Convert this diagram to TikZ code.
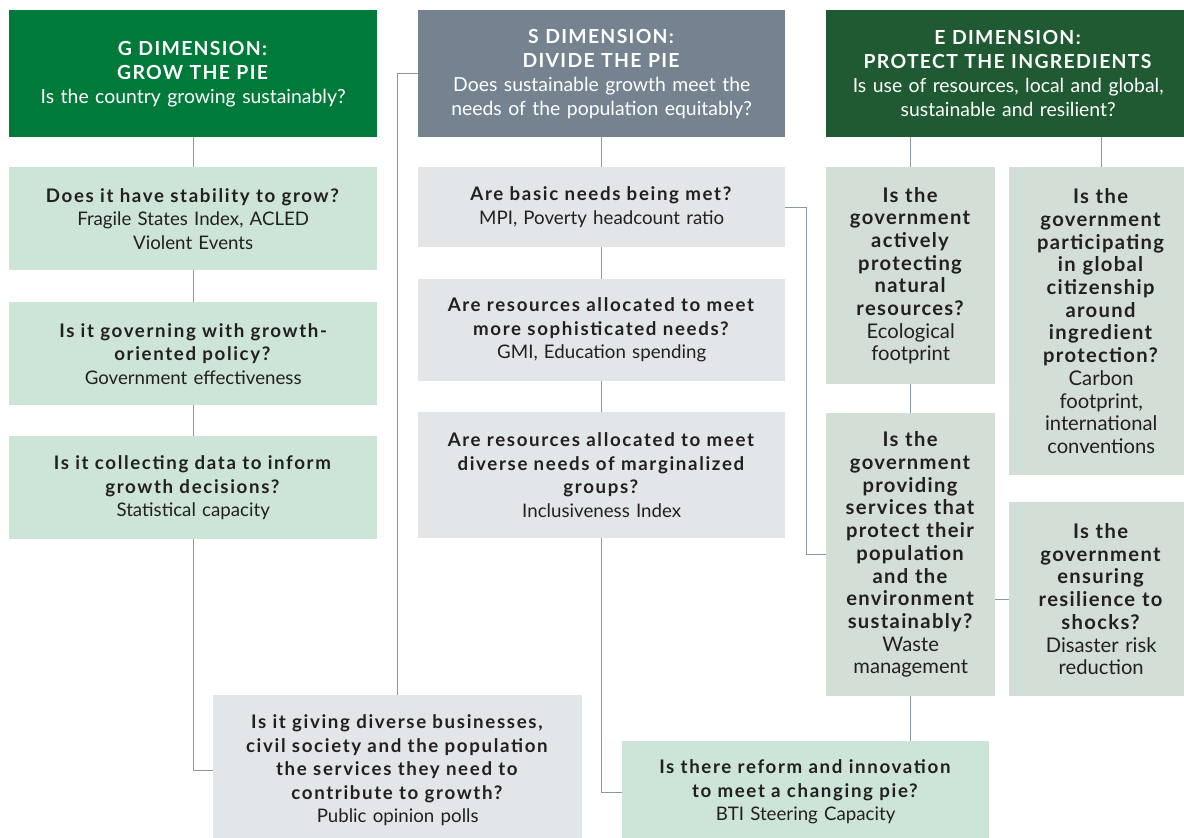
\documentclass[tikz,border=0pt]{standalone}
\usepackage{fontspec}
\setmainfont{Lato}[BoldFeatures={LetterSpace=6.7}]
\newfontfamily\bodyfont{Lato}[BoldFeatures={LetterSpace=8.8}]
\newfontfamily\efont{Lato}[BoldFeatures={LetterSpace=6.5}]
\usepackage{tikz}

\definecolor{gdark}{RGB}{0,122,58}
\definecolor{sdark}{RGB}{116,131,143}
\definecolor{edark}{RGB}{31,90,50}
\definecolor{glight}{RGB}{205,229,215}
\definecolor{slight}{RGB}{227,230,233}
\definecolor{elight}{RGB}{211,222,214}
\definecolor{ink}{RGB}{35,31,32}
\definecolor{wire}{RGB}{140,152,162}

\begin{document}
\begin{tikzpicture}[x=1pt,y=-1pt,
	box/.style={anchor=north west,inner sep=0pt,align=center,text=ink,
		font=\bodyfont\fontsize{18.7}{23.5}\selectfont},
	ebox/.style={box,fill=elight,font=\efont\fontsize{20.2}{22.7}\selectfont},
	head/.style={box,text=white,font=\normalfont\fontsize{19.4}{24}\selectfont},
	link/.style={draw=wire,line width=1.4pt}]
	
	\useasboundingbox (0,0) rectangle (1184,838);
	
	% headers
	\node[head,fill=gdark,minimum width=368pt,minimum height=127pt,text width=366pt] (g0) at (9,10)
		{\textbf{G DIMENSION:}\\\textbf{GROW THE PIE}\\Is the country growing sustainably?};
	\node[head,fill=sdark,minimum width=367pt,minimum height=127pt,text width=366pt] (s0) at (418,10)
		{\textbf{S DIMENSION:}\\\textbf{DIVIDE THE PIE}\\Does sustainable growth meet the\\needs of the population equitably?};
	\node[head,fill=edark,minimum width=364pt,minimum height=127pt,text width=356pt] (e0) at (826,10)
		{\textbf{E DIMENSION:}\\\textbf{PROTECT THE INGREDIENTS}\\Is use of resources, local and global,\\sustainable and resilient?};
	
	% G column
	\node[box,fill=glight,minimum width=368pt,minimum height=103pt,text width=366pt] (g1) at (9,167)
		{\textbf{Does it have stability to grow?}\\Fragile States Index, ACLED\\Violent Events};
	\node[box,fill=glight,minimum width=368pt,minimum height=103pt,text width=366pt] (g2) at (9,302)
		{\textbf{Is it governing with growth-}\\\textbf{oriented policy?}\\Government effectiveness};
	\node[box,fill=glight,minimum width=368pt,minimum height=103pt,text width=366pt] (g3) at (9,436)
		{\textbf{Is it collecting data to inform}\\\textbf{growth decisions?}\\Statistical capacity};
	\node[box,fill=slight,minimum width=369pt,minimum height=150pt,text width=366pt] (gb) at (213,695)
		{\textbf{Is it giving diverse businesses,}\\\textbf{civil society and the population}\\\textbf{the services they need to}\\\textbf{contribute to growth?}\\Public opinion polls\\[8pt]};
	
	% S column
	\node[box,fill=slight,minimum width=367pt,minimum height=80pt,text width=366pt] (s1) at (418,167)
		{\textbf{Are basic needs being met?}\\MPI, Poverty headcount ratio};
	\node[box,fill=slight,minimum width=367pt,minimum height=102pt,text width=366pt] (s2) at (418,279)
		{\textbf{Are resources allocated to meet}\\\textbf{more sophisticated needs?}\\GMI, Education spending};
	\node[box,fill=slight,minimum width=367pt,minimum height=126pt,text width=366pt] (s3) at (418,412)
		{\textbf{Are resources allocated to meet}\\\textbf{diverse needs of marginalized}\\\textbf{groups?}\\Inclusiveness Index\\[22pt]};
	\node[box,fill=glight,minimum width=367pt,minimum height=102pt,text width=366pt] (sr) at (622,741)
		{\textbf{Is there reform and innovation}\\\textbf{to meet a changing pie?}\\BTI Steering Capacity\\[4pt]};
	
	% E column
	\node[ebox,minimum width=169pt,minimum height=217pt,text width=168pt] (e1) at (826,167)
		{\textbf{Is the}\\\textbf{government}\\\textbf{actively}\\\textbf{protecting}\\\textbf{natural}\\\textbf{resources?}\\Ecological\\footprint};
	\node[ebox,minimum width=184pt,minimum height=308pt,text width=182pt] (e2) at (1009,167)
		{\textbf{Is the}\\\textbf{government}\\\textbf{participating}\\\textbf{in global}\\\textbf{citizenship}\\\textbf{around}\\\textbf{ingredient}\\\textbf{protection?}\\Carbon\\footprint,\\international\\conventions};
	\node[ebox,minimum width=169pt,minimum height=283pt,text width=168pt] (e3) at (826,413)
		{\textbf{Is the}\\\textbf{government}\\\textbf{providing}\\\textbf{services that}\\\textbf{protect their}\\\textbf{population}\\\textbf{and the}\\\textbf{environment}\\\textbf{sustainably?}\\Waste\\management};
	\node[ebox,minimum width=184pt,minimum height=194pt,text width=182pt] (e4) at (1009,502)
		{\textbf{Is the}\\\textbf{government}\\\textbf{ensuring}\\\textbf{resilience to}\\\textbf{shocks?}\\Disaster risk\\reduction};
	
	% connectors
	\path[link] (g0.south) -- (g1.north);
	\path[link] (g1.south) -- (g2.north);
	\path[link] (g2.south) -- (g3.north);
	\path[link] (g3.south) |- (gb.west);
	\path[link] (gb.north) |- (s0.west);
	\path[link] (s0.south) -- (s1.north);
	\path[link] (s1.south) -- (s2.north);
	\path[link] (s2.south) -- (s3.north);
	\path[link] (s3.south) |- (sr.west);
	\path[link] (s1.east) -- ++(21,0) |- (e3.west);
	\path[link] (e1.north |- e0.south) -- (e1.north);
	\path[link] (e2.north |- e0.south) -- (e2.north);
	\path[link] (e1.south) -- (e3.north);
	\path[link] (e3.east |- e4.west) -- (e4.west);
	\path[link] (e3.south) -- (e3.south |- sr.north);
	
\end{tikzpicture}
\end{document}
